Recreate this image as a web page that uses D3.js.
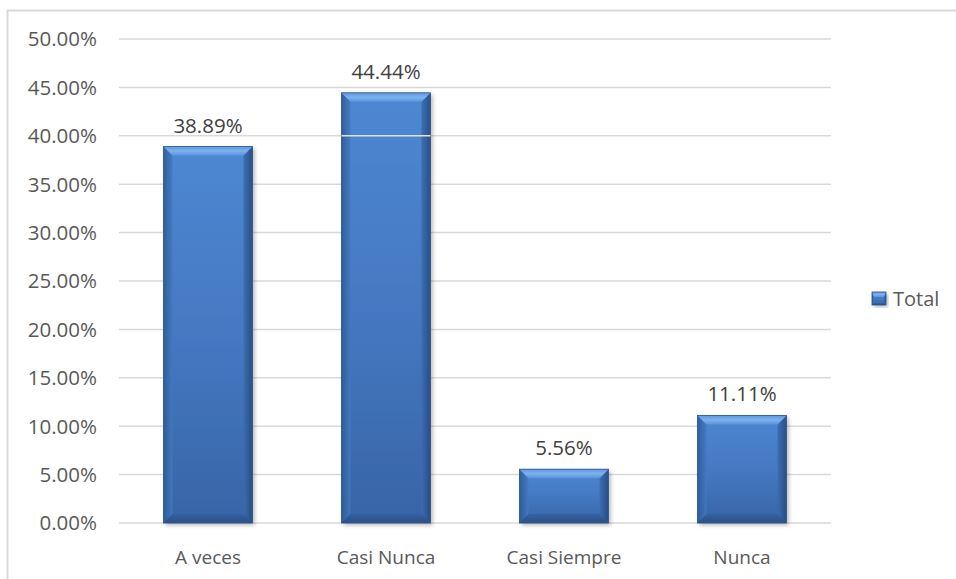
<!DOCTYPE html>
<html><head><meta charset="utf-8">
<script src="https://cdn.jsdelivr.net/npm/d3@7"></script>
<style>
html,body{margin:0;padding:0;background:#fff;}
svg{display:block;font-family:"Open Sans",sans-serif;}
</style></head>
<body>
<svg id="chart" width="956" height="579"></svg>
<script>
const categories = ["A veces", "Casi Nunca", "Casi Siempre", "Nunca"];
const values = [0.3889, 0.4444, 0.0556, 0.1111];
const valueLabels = ["38.89%", "44.44%", "5.56%", "11.11%"];
const yTicks = [0, 0.05, 0.10, 0.15, 0.20, 0.25, 0.30, 0.35, 0.40, 0.45, 0.50];
const overlayTicks = [0.40];
const seriesName = "Total";

const svg = d3.select("#chart");
const plot = {left: 119, right: 831, top: 39, bottom: 523};

// chart area border
svg.append("rect").attr("x", 7.5).attr("y", 10.5).attr("width", 1000).attr("height", 700)
  .attr("fill", "#fff").attr("stroke", "#d9d9d9").attr("stroke-width", 2);

const x = d3.scaleBand().domain(categories).range([plot.left, plot.right]).paddingInner(0.5).paddingOuter(0.25);
const y = d3.scaleLinear().domain([0, 0.5]).range([plot.bottom, plot.top]);

const defs = svg.append("defs");
const mk = (id, x1, y1, x2, y2, stops) => {
  const g = defs.append("linearGradient").attr("id", id)
    .attr("x1", x1).attr("y1", y1).attr("x2", x2).attr("y2", y2);
  stops.forEach(s => g.append("stop").attr("offset", s[0]).attr("stop-color", s[1]));
};
mk("gMain", 0, 0, 0, 1, [[0, "#4e87d2"], [0.5, "#4479c2"], [1, "#3864a6"]]);
mk("gTop", 0, 0, 0, 1, [[0, "#5f97de"], [0.5, "#7cb2ef"], [1, "#5a93db"]]);
mk("gLeft", 0, 0, 1, 0, [[0, "#2d5893"], [1, "#4379c2"]]);
mk("gRight", 0, 0, 1, 0, [[0, "#3c6cb0"], [1, "#264a7e"]]);
mk("gBottom", 0, 0, 0, 1, [[0, "#33609f"], [1, "#264b80"]]);
const f = defs.append("filter").attr("id", "sh").attr("x", "-20%").attr("y", "-20%").attr("width", "140%").attr("height", "140%");
f.append("feDropShadow").attr("dx", 2).attr("dy", 2).attr("stdDeviation", 2).attr("flood-color", "#000").attr("flood-opacity", 0.3);

// gridlines
svg.append("g").selectAll("line").data(yTicks).join("line")
  .attr("x1", plot.left).attr("x2", plot.right)
  .attr("y1", d => y(d)).attr("y2", d => y(d))
  .attr("stroke", "#d9d9d9").attr("stroke-width", 1.5);

// y labels
svg.append("g").selectAll("text").data(yTicks).join("text")
  .attr("x", 97).attr("y", d => y(d)).attr("dy", "0.36em")
  .attr("text-anchor", "end").attr("font-size", 20.5).attr("fill", "#595959")
  .text(d => d3.format(".2%")(d));

// bars with bevel
function drawBevelBar(g, x0, y0, w, h, bev, side) {
  g.append("rect").attr("x", x0).attr("y", y0).attr("width", w).attr("height", h)
    .attr("fill", "url(#gMain)").attr("filter", "url(#sh)");
  const x1 = x0 + w, y1 = y0 + h;
  g.append("polygon").attr("points", [[x0, y0], [x0 + side, y0 + bev], [x0 + side, y1 - side], [x0, y1]].join(" "))
    .attr("fill", "url(#gLeft)").attr("opacity", 0.85);
  g.append("polygon").attr("points", [[x1, y0], [x1 - side, y0 + bev], [x1 - side, y1 - side], [x1, y1]].join(" "))
    .attr("fill", "url(#gRight)").attr("opacity", 0.9);
  g.append("polygon").attr("points", [[x0, y1], [x0 + side, y1 - side], [x1 - side, y1 - side], [x1, y1]].join(" "))
    .attr("fill", "url(#gBottom)").attr("opacity", 0.8);
  g.append("polygon").attr("points", [[x0, y0], [x1, y0], [x1 - side, y0 + bev], [x0 + side, y0 + bev]].join(" "))
    .attr("fill", "url(#gTop)");
  g.append("rect").attr("x", x0).attr("y", y0).attr("width", w).attr("height", h)
    .attr("fill", "none").attr("stroke", "#2f5688").attr("stroke-width", 0.8);
}

const barsG = svg.append("g");
categories.forEach((c, i) => {
  const g = barsG.append("g");
  drawBevelBar(g, x(c), y(values[i]), x.bandwidth(), y(0) - y(values[i]), 9, 9);
});

// gridline segments that show over taller bars in the original
const overlay = [];
overlayTicks.forEach(t => categories.forEach((c, i) => { if (values[i] > t) overlay.push({c, t}); }));
svg.append("g").selectAll("line").data(overlay).join("line")
  .attr("x1", d => x(d.c)).attr("x2", d => x(d.c) + x.bandwidth())
  .attr("y1", d => y(d.t)).attr("y2", d => y(d.t))
  .attr("stroke", "#e3e3e3").attr("stroke-width", 1.5);

// value labels
svg.append("g").selectAll("text").data(categories).join("text")
  .attr("x", d => x(d) + x.bandwidth() / 2)
  .attr("y", (d, i) => y(values[i]) - 14)
  .attr("text-anchor", "middle").attr("font-size", 20.5).attr("fill", "#404040")
  .text((d, i) => valueLabels[i]);

// category labels
svg.append("g").selectAll("text").data(categories).join("text")
  .attr("x", d => x(d) + x.bandwidth() / 2)
  .attr("y", 564)
  .attr("text-anchor", "middle").attr("font-size", 19).attr("fill", "#595959")
  .text(d => d);

// legend
const lg = svg.append("g").attr("transform", "translate(872,292)");
drawBevelBar(lg, 0, 0, 14, 13, 5, 2);
lg.append("text").attr("x", 21).attr("y", 14).attr("font-size", 20).attr("fill", "#595959").text(seriesName);
</script>
</body></html>
